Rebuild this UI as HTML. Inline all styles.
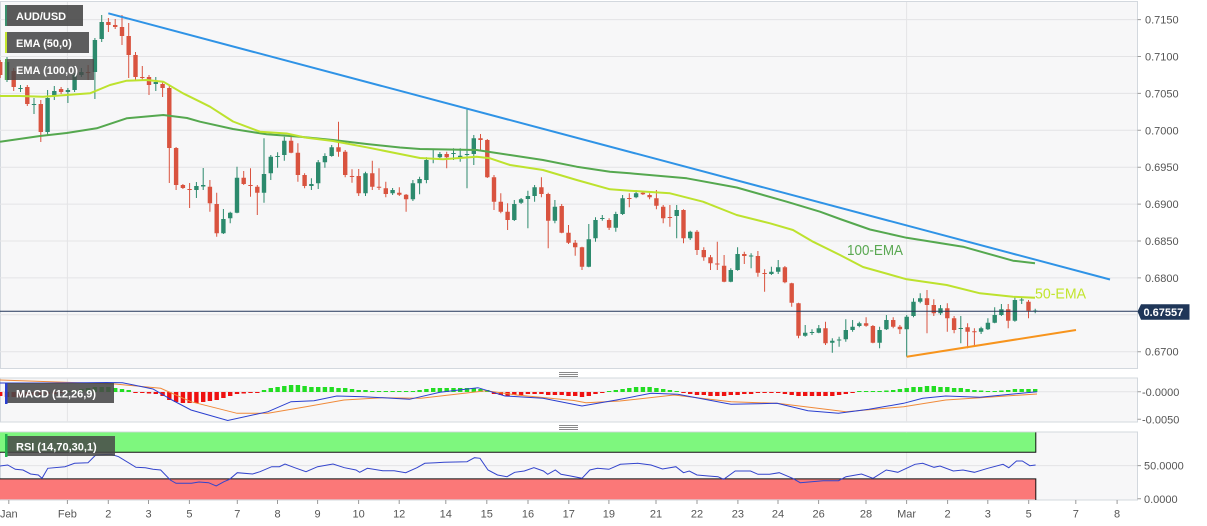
<!DOCTYPE html>
<html>
<head>
<meta charset="utf-8">
<style>
  html,body{margin:0;padding:0;background:#ffffff;}
  body{width:1207px;height:526px;overflow:hidden;}
  svg{display:block;font-family:"Liberation Sans",Arial,sans-serif;}
  .ax{font-size:11px;fill:#555;}
  .lg{font-size:11px;fill:#fff;font-weight:bold;}
</style>
</head>
<body>
<svg width="1207" height="526" viewBox="0 0 1207 526" xmlns="http://www.w3.org/2000/svg">
  <defs>
    <clipPath id="cm"><rect x="0" y="1.5" width="1137.5" height="367"/></clipPath>
    <clipPath id="cd"><rect x="0" y="378" width="1137.5" height="44"/></clipPath>
    <clipPath id="cr"><rect x="0" y="432" width="1137.5" height="68"/></clipPath>
  </defs>

  <!-- panels -->
  <rect x="0.5" y="1.5" width="1137" height="367" fill="#f7f7f8" stroke="#d3d8de"/>
  <rect x="0.5" y="378" width="1137" height="44" fill="#f7f7f8" stroke="#d3d8de"/>
  <rect x="0.5" y="432" width="1137" height="68" fill="#f7f7f8" stroke="#d3d8de"/>

  <!-- main grid -->
  <g stroke="#e4e4e6" stroke-width="1">
    <path d="M0 19.6H1137M0 56.5H1137M0 93.4H1137M0 130.3H1137M0 167.2H1137M0 204.1H1137M0 241H1137M0 277.9H1137M0 314.8H1137M0 351.7H1137"/>
    <path d="M67.4 2V368M906.6 2V368M67.4 378V422M906.6 378V422M67.4 432V500M906.6 432V500"/>
    <path d="M0 391.8H1137M0 465.6H1137"/>
  </g>

  <!-- handles -->
  <g stroke="#8a8a8a" stroke-width="1">
    <path d="M559 372.5H578M559 374.5H578M559 376.5H578"/>
    <path d="M559 425.5H578M559 427.5H578M559 429.5H578"/>
  </g>

  <g clip-path="url(#cm)">
    <!-- candles -->
    <g transform="translate(0,0)">
    <path fill="none" stroke="#2c8a6d" stroke-width="1" d="M7 57V82M20.5 85V92M34 98V114M47.6 90V135M54.3 86V100M67.9 88V103M74.6 73V92M81.4 68V77M94.9 38V99M101.7 15V42M155.8 77V91M196.4 182V198M203.2 168V190M223.4 209V234M230.2 211.7V223.3M237 166.7V213.3M264 138.3V202.7M270.8 155V180M277.6 152.3V167.7M284.3 136.7V160.7M311.4 178.3V190M318.2 160V189M324.9 153.3V167.7M331.7 145V156.7M365.5 171.7V196M392.6 188V195M412.9 180V201M419.6 176.7V194.3M426.4 157.3V183.3M433.2 150V163.3M439.9 152V158M453.5 148.3V160M460.2 148.3V161.7M467 109.3V188.3M473.8 135V165M514.3 200V221M521.1 198V204M527.9 190.7V228.3M534.6 185V201.7M554.9 200V223.3M588.8 224V267.3M595.5 217.3V241.7M602.3 215V220.7M615.8 211.7V231.7M622.6 195V215M636.1 190V198.3M676.7 205V238.3M690.2 230.7V240M730.8 268.3V282.3M737.6 247.3V270.7M751.1 253.3V268.3M771.4 266.7V275M778.2 260V274M805.2 325V336.7M812 329.3V335M818.8 325V333.3M832.3 338.3V352.7M839.1 336.7V346.7M845.8 319.3V341.7M852.6 320V331.7M859.3 321.7V327.3M879.6 326.7V348.3M886.4 315V330M906.7 315V356.7M913.5 298.3V317.3M920.2 293.3V303.3M940.5 305V315M960.8 316V343.3M981.1 326.7V334M987.9 318.3V330M994.7 307.3V323.3M1001.4 304V316M1014.9 296.7V321.7M1021.7 296.7V304M1035.2 308.7V313.3"/>
    <path fill="none" stroke="#d9533f" stroke-width="1" d="M0.2 60V78M13.7 68V91M27.3 85V106M40.8 100V142M61.1 87V94M88.1 65V80M108.4 18V32M115.2 19V29M122 15V45M128.7 23V78M135.5 52V80M142.3 66V80M149 75V95M162.6 82V97M169.3 86V183M176.1 147V190M182.9 184V189M189.6 183V208M209.9 180V211.7M216.7 192.7V236.7M243.7 171V185M250.5 168.3V196.7M257.3 185V215M291.1 136.7V153.3M297.9 143.3V181.7M304.6 173.3V188.3M338.5 121.7V156.7M345.2 150V177.3M352 169.3V182.7M358.7 169V196M372.3 160.7V190M379 168.3V190M385.8 181.7V197.3M399.3 187.3V196M406.1 194V211.7M446.7 151.7V168.3M480.5 134V150M487.3 139V178M494 175V210M500.8 193.3V213.3M507.6 203.3V230M541.4 177.3V197.3M548.2 192.7V248.3M561.7 204V233.3M568.5 225V244M575.2 240V255.7M582 246.7V270M609.1 218.3V230M629.3 193.3V207.3M642.9 190.7V195M649.6 193.3V199.3M656.4 190V209.3M663.2 205V223.3M669.9 205V226.7M683.5 209.3V243.3M697 230V255M703.8 247.3V260.7M710.5 255V270M717.3 241.7V270M724.1 255V282.3M744.3 251.7V264M757.9 251V276.7M764.6 269.3V291.7M784.9 266V283.3M791.7 282.7V306.7M798.5 302.7V338.3M825.5 321.7V345M866.1 317.3V326.7M872.9 325V343.3M893.2 317.3V328.3M899.9 325V334M927 290V333.3M933.8 299.3V316M947.3 303.3V331.7M954.1 316V333.3M967.6 323.3V348.3M974.4 328.3V346.7M1008.2 304V328.3M1028.5 300V318.3"/>
    <path fill="#2c8a6d" d="M4.8 62h4.4v18h-4.4zM18.3 88h4.4v1h-4.4zM31.8 104h4.4v1h-4.4zM45.4 98h4.4v34h-4.4zM52.1 91h4.4v5h-4.4zM65.7 90h4.4v2h-4.4zM72.4 75h4.4v15h-4.4zM79.2 72h4.4v3h-4.4zM92.7 40h4.4v32h-4.4zM99.5 22h4.4v17h-4.4zM153.6 82h4.4v2h-4.4zM194.2 186h4.4v4h-4.4zM201 185h4.4v1.5h-4.4zM221.2 219h4.4v14.3h-4.4zM228 212.7h4.4v5.6h-4.4zM234.8 177.7h4.4v35h-4.4zM261.8 174h4.4v18.7h-4.4zM268.6 156.7h4.4v16.6h-4.4zM275.4 156h4.4v1h-4.4zM282.1 140.7h4.4v14.3h-4.4zM309.2 184h4.4v2h-4.4zM316 162.3h4.4v21h-4.4zM322.7 156h4.4v6.3h-4.4zM329.5 147.3h4.4v8.7h-4.4zM363.3 173.3h4.4v20h-4.4zM390.4 190h4.4v3.3h-4.4zM410.7 183.3h4.4v16h-4.4zM417.4 179h4.4v4.3h-4.4zM424.2 160h4.4v20h-4.4zM431 158h4.4v1h-4.4zM437.7 154h4.4v3.3h-4.4zM451.3 153h4.4v1h-4.4zM458 155.7h4.4v1.6h-4.4zM464.8 154h4.4v1h-4.4zM471.6 138.3h4.4v15.7h-4.4zM512.1 204h4.4v16h-4.4zM518.9 199.3h4.4v3.4h-4.4zM525.7 196h4.4v3h-4.4zM532.4 187.3h4.4v8.7h-4.4zM552.7 206.7h4.4v14h-4.4zM586.6 239.3h4.4v27.4h-4.4zM593.3 220h4.4v18.3h-4.4zM600.1 218h4.4v1h-4.4zM613.6 214h4.4v13.7h-4.4zM620.4 198.3h4.4v15.7h-4.4zM633.9 193.3h4.4v4h-4.4zM674.5 210h4.4v6h-4.4zM688 231.7h4.4v6.6h-4.4zM728.6 270h4.4v11.7h-4.4zM735.4 254h4.4v16h-4.4zM748.9 255.5h4.4v1h-4.4zM769.2 271.7h4.4v2.3h-4.4zM776 267.3h4.4v4.4h-4.4zM803 332.7h4.4v3h-4.4zM809.8 332h4.4v1h-4.4zM816.6 328.3h4.4v4.4h-4.4zM830.1 340.7h4.4v2h-4.4zM836.9 339.5h4.4v1h-4.4zM843.6 330h4.4v9.3h-4.4zM850.4 326.7h4.4v3.3h-4.4zM857.1 323.3h4.4v2.7h-4.4zM877.4 330h4.4v12.7h-4.4zM884.2 320h4.4v9.3h-4.4zM904.5 316.7h4.4v12.6h-4.4zM911.3 301.7h4.4v14.3h-4.4zM918 298.3h4.4v3.4h-4.4zM938.3 308.3h4.4v5h-4.4zM958.6 328h4.4v1h-4.4zM978.9 328.3h4.4v3.4h-4.4zM985.7 322.7h4.4v6.6h-4.4zM992.5 315h4.4v7.7h-4.4zM999.2 309.3h4.4v5.7h-4.4zM1012.7 300h4.4v20.7h-4.4zM1019.5 299.5h4.4v1h-4.4zM1033 310.5h4.4v1h-4.4z"/>
    <path fill="#d9533f" d="M-2 62h4.4v13h-4.4zM11.5 71h4.4v16h-4.4zM25.1 87h4.4v17h-4.4zM38.6 104h4.4v28h-4.4zM58.9 89h4.4v3h-4.4zM85.9 72h4.4v1h-4.4zM106.2 22h4.4v3h-4.4zM113 25h4.4v2h-4.4zM119.8 27h4.4v9h-4.4zM126.5 36h4.4v19h-4.4zM133.3 55h4.4v22h-4.4zM140.1 77h4.4v1h-4.4zM146.8 77h4.4v8h-4.4zM160.4 84h4.4v4h-4.4zM167.1 88h4.4v60h-4.4zM173.9 148h4.4v37h-4.4zM180.7 185h4.4v3h-4.4zM187.4 189h4.4v1h-4.4zM207.7 186.7h4.4v16.6h-4.4zM214.5 204h4.4v29.3h-4.4zM241.5 177.7h4.4v6.3h-4.4zM248.3 185h4.4v1h-4.4zM255.1 186.7h4.4v6h-4.4zM288.9 140.7h4.4v12h-4.4zM295.7 152.7h4.4v22.3h-4.4zM302.4 175h4.4v11h-4.4zM336.3 147.3h4.4v4.4h-4.4zM343 151.7h4.4v23.3h-4.4zM349.8 176h4.4v1h-4.4zM356.5 176h4.4v17.3h-4.4zM370.1 173.3h4.4v13.4h-4.4zM376.8 186.7h4.4v1h-4.4zM383.6 188.3h4.4v5.7h-4.4zM397.1 192.7h4.4v2h-4.4zM403.9 194.7h4.4v4.6h-4.4zM444.5 154h4.4v3.3h-4.4zM478.3 138.3h4.4v1.7h-4.4zM485.1 140h4.4v37.3h-4.4zM491.8 177.3h4.4v24.4h-4.4zM498.6 201.7h4.4v10h-4.4zM505.4 211.7h4.4v8.3h-4.4zM539.2 187.3h4.4v6.7h-4.4zM546 194h4.4v26.7h-4.4zM559.5 206h4.4v26.7h-4.4zM566.3 232.7h4.4v10h-4.4zM573 242.7h4.4v4.6h-4.4zM579.8 247.3h4.4v19.4h-4.4zM606.9 220h4.4v7.7h-4.4zM627.1 198h4.4v1h-4.4zM640.7 192.7h4.4v1.6h-4.4zM647.4 195h4.4v2.3h-4.4zM654.2 198.3h4.4v7.4h-4.4zM661 206.7h4.4v11.6h-4.4zM667.7 217h4.4v1h-4.4zM681.3 210h4.4v28.3h-4.4zM694.8 231.7h4.4v18.3h-4.4zM701.6 250h4.4v7.3h-4.4zM708.3 257.3h4.4v6h-4.4zM715.1 263.5h4.4v1h-4.4zM721.9 265.7h4.4v16h-4.4zM742.1 254h4.4v2h-4.4zM755.7 256h4.4v16.7h-4.4zM762.4 273h4.4v1h-4.4zM782.7 267.3h4.4v15h-4.4zM789.5 283.3h4.4v19.4h-4.4zM796.3 303.3h4.4v32.4h-4.4zM823.3 328.3h4.4v15h-4.4zM863.9 323.3h4.4v2.4h-4.4zM870.7 326h4.4v16.7h-4.4zM891 320h4.4v6.7h-4.4zM897.7 326.7h4.4v2.6h-4.4zM924.8 298.3h4.4v6.7h-4.4zM931.6 305h4.4v8.3h-4.4zM945.1 308.3h4.4v10h-4.4zM951.9 318.3h4.4v11.7h-4.4zM965.4 327.3h4.4v4.4h-4.4zM972.2 331.2h4.4v1h-4.4zM1006 309.3h4.4v11.4h-4.4zM1026.3 301.7h4.4v9h-4.4z"/>
    </g>

    <!-- EMAs -->
    <polyline fill="none" stroke="#55a84f" stroke-width="2" stroke-linejoin="round" points="0,141.7 40,136 66.7,133 96.7,128.3 126.7,118.3 163.3,115 187,118 200,121.7 233,129 266.7,134.3 300,136.7 333,140 366.7,144 400,147.5 420,149 476.7,150 510,155 543,160 576.7,166.7 610,171.7 630,173.3 686.7,178.3 736.7,187.5 786.7,201.7 820,211.7 840,219 870,229.5 906.7,237.8 963,246.7 1013,260.7 1035,263.3"/>
    <polyline fill="none" stroke="#bde22e" stroke-width="2" stroke-linejoin="round" points="0,96 20,96 43,96.7 66.7,95 90,93.3 110,85 126.7,80.7 146.7,80 163.3,81.7 183,93.3 200,101.7 210,106.7 233,121.5 260,131.7 286.7,133.5 306.7,137.8 333,141 366.7,147.3 400,154 420,158 443,159.3 476.7,156.7 490,158.3 510,165 543,170 576.7,180 610,189.3 630,190.7 670,193.3 703,201.7 736.7,215 770,223.3 793,230 813,241.7 840,255 863,267 906.7,279.3 946.7,285 980,293.3 1013,296.7 1035,297.7"/>

    <!-- trend lines -->
    <line x1="108.3" y1="13.3" x2="1110" y2="279.5" stroke="#2f93e6" stroke-width="2"/>
    <line x1="906.7" y1="356.7" x2="1076" y2="330" stroke="#f7941d" stroke-width="2"/>

    <!-- current price line -->
    <line x1="0" y1="311.2" x2="1137.5" y2="311.2" stroke="#22375a" stroke-width="1"/>

    <text x="847" y="255" font-size="15" fill="#5aa852" textLength="56" lengthAdjust="spacingAndGlyphs">100-EMA</text>
    <text x="1035" y="298.5" font-size="15" fill="#c2e52d" textLength="51" lengthAdjust="spacingAndGlyphs">50-EMA</text>
  </g>

  <!-- legends main -->
  <rect x="5" y="5" width="78" height="21" fill="rgba(72,72,72,0.9)"/>
  <rect x="5" y="5" width="2" height="21" fill="#3a8f6c"/>
  <text class="lg" x="16" y="20">AUD/USD</text>
  <rect x="5" y="32" width="84" height="21" fill="rgba(72,72,72,0.88)"/>
  <rect x="5" y="32" width="2" height="21" fill="#c2e52d"/>
  <text class="lg" x="16" y="47">EMA (50,0)</text>
  <rect x="5" y="59" width="89" height="21" fill="rgba(72,72,72,0.82)"/>
  <rect x="5" y="59" width="2" height="21" fill="#55a84f"/>
  <text class="lg" x="16" y="74">EMA (100,0)</text>

  <!-- MACD -->
  <g clip-path="url(#cd)">
    <path fill="#22dd22" d="M65.7 391h4.4v1h-4.4zM72.4 390h4.4v2h-4.4zM79.2 389h4.4v3h-4.4zM85.9 388h4.4v4h-4.4zM92.7 387h4.4v5h-4.4zM99.5 387h4.4v5h-4.4zM106.2 387h4.4v5h-4.4zM113 388h4.4v4h-4.4zM119.8 389h4.4v3h-4.4zM126.5 390h4.4v2h-4.4zM261.8 390h4.4v2h-4.4zM268.6 388h4.4v4h-4.4zM275.4 387h4.4v5h-4.4zM282.1 386h4.4v6h-4.4zM288.9 385h4.4v7h-4.4zM295.7 385h4.4v7h-4.4zM302.4 386h4.4v6h-4.4zM309.2 387h4.4v5h-4.4zM316 387h4.4v5h-4.4zM322.7 387h4.4v5h-4.4zM329.5 387h4.4v5h-4.4zM336.3 388h4.4v4h-4.4zM343 388h4.4v4h-4.4zM349.8 389h4.4v3h-4.4zM356.5 390h4.4v2h-4.4zM363.3 390h4.4v2h-4.4zM370.1 391h4.4v1h-4.4zM376.8 391h4.4v1h-4.4zM383.6 391h4.4v1h-4.4zM390.4 391h4.4v1h-4.4zM397.1 391h4.4v1h-4.4zM403.9 391h4.4v1h-4.4zM410.7 391h4.4v1h-4.4zM417.4 390h4.4v2h-4.4zM424.2 389h4.4v3h-4.4zM431 388h4.4v4h-4.4zM437.7 388h4.4v4h-4.4zM444.5 388h4.4v4h-4.4zM451.3 388h4.4v4h-4.4zM458 388h4.4v4h-4.4zM464.8 388h4.4v4h-4.4zM471.6 388h4.4v4h-4.4zM478.3 389h4.4v3h-4.4zM485.1 390h4.4v2h-4.4zM606.9 391h4.4v1h-4.4zM613.6 390h4.4v2h-4.4zM620.4 389h4.4v3h-4.4zM627.1 388h4.4v4h-4.4zM633.9 387h4.4v5h-4.4zM640.7 387h4.4v5h-4.4zM647.4 387h4.4v5h-4.4zM654.2 388h4.4v4h-4.4zM661 389h4.4v3h-4.4zM667.7 390h4.4v2h-4.4zM674.5 391h4.4v1h-4.4zM857.1 391h4.4v1h-4.4zM863.9 391h4.4v1h-4.4zM870.7 391h4.4v1h-4.4zM877.4 391h4.4v1h-4.4zM884.2 390.5h4.4v1.5h-4.4zM891 390h4.4v2h-4.4zM897.7 389h4.4v3h-4.4zM904.5 388h4.4v4h-4.4zM911.3 387h4.4v5h-4.4zM918 387h4.4v5h-4.4zM924.8 386h4.4v6h-4.4zM931.6 386h4.4v6h-4.4zM938.3 387h4.4v5h-4.4zM945.1 387h4.4v5h-4.4zM951.9 388h4.4v4h-4.4zM958.6 388h4.4v4h-4.4zM965.4 389h4.4v3h-4.4zM972.2 390h4.4v2h-4.4zM978.9 390.5h4.4v1.5h-4.4zM985.7 391h4.4v1h-4.4zM992.5 391h4.4v1h-4.4zM999.2 390.5h4.4v1.5h-4.4zM1006 390h4.4v2h-4.4zM1012.7 389h4.4v3h-4.4zM1019.5 389h4.4v3h-4.4zM1026.3 389h4.4v3h-4.4zM1033 389h4.4v3h-4.4z"/>
    <path fill="#ee1111" d="M-2 392h4.4v4h-4.4zM4.8 392h4.4v5h-4.4zM11.5 392h4.4v5h-4.4zM18.3 392h4.4v5h-4.4zM25.1 392h4.4v4h-4.4zM31.8 392h4.4v3h-4.4zM38.6 392h4.4v3h-4.4zM45.4 392h4.4v2h-4.4zM52.1 392h4.4v2h-4.4zM58.9 392h4.4v1h-4.4zM133.3 392h4.4v1h-4.4zM140.1 392h4.4v1h-4.4zM146.8 392h4.4v1.5h-4.4zM153.6 392h4.4v2h-4.4zM160.4 392h4.4v4h-4.4zM167.1 392h4.4v8h-4.4zM173.9 392h4.4v10h-4.4zM180.7 392h4.4v11h-4.4zM187.4 392h4.4v11h-4.4zM194.2 392h4.4v11h-4.4zM201 392h4.4v10h-4.4zM207.7 392h4.4v9h-4.4zM214.5 392h4.4v8h-4.4zM221.2 392h4.4v6h-4.4zM228 392h4.4v4h-4.4zM234.8 392h4.4v2h-4.4zM241.5 392h4.4v1.5h-4.4zM248.3 392h4.4v1h-4.4zM255.1 392h4.4v1h-4.4zM491.8 392h4.4v2h-4.4zM498.6 392h4.4v3h-4.4zM505.4 392h4.4v4h-4.4zM512.1 392h4.4v3h-4.4zM518.9 392h4.4v3h-4.4zM525.7 392h4.4v2h-4.4zM532.4 392h4.4v2h-4.4zM539.2 392h4.4v2h-4.4zM546 392h4.4v3h-4.4zM552.7 392h4.4v3h-4.4zM559.5 392h4.4v3h-4.4zM566.3 392h4.4v4h-4.4zM573 392h4.4v4h-4.4zM579.8 392h4.4v5h-4.4zM586.6 392h4.4v4h-4.4zM593.3 392h4.4v2h-4.4zM600.1 392h4.4v1h-4.4zM681.3 392h4.4v1h-4.4zM688 392h4.4v2h-4.4zM694.8 392h4.4v3h-4.4zM701.6 392h4.4v3h-4.4zM708.3 392h4.4v4h-4.4zM715.1 392h4.4v4h-4.4zM721.9 392h4.4v4h-4.4zM728.6 392h4.4v3h-4.4zM735.4 392h4.4v3h-4.4zM742.1 392h4.4v2h-4.4zM748.9 392h4.4v2h-4.4zM755.7 392h4.4v1h-4.4zM762.4 392h4.4v1h-4.4zM769.2 392h4.4v1h-4.4zM776 392h4.4v1h-4.4zM782.7 392h4.4v2h-4.4zM789.5 392h4.4v3h-4.4zM796.3 392h4.4v4h-4.4zM803 392h4.4v4h-4.4zM809.8 392h4.4v4h-4.4zM816.6 392h4.4v4h-4.4zM823.3 392h4.4v4h-4.4zM830.1 392h4.4v4h-4.4zM836.9 392h4.4v3h-4.4zM843.6 392h4.4v2h-4.4zM850.4 392h4.4v1h-4.4z"/>
    <polyline fill="none" stroke="#f08a3a" stroke-width="1" points="0,380 115,384 160.7,388.3 191,401.7 237,413.3 268,413.3 306,406.7 344,400 382.7,397.7 421,398.3 486,390.7 516.6,395 574,400.5 586,402.7 620,401 674,395 731,401.7 777,403.3 846,411.7 903.6,406.7 945.7,400 980,397.7 1037,394"/>
    <polyline fill="none" stroke="#2a3fd0" stroke-width="1" points="0,383 60,383 107,382.5 122.5,382.7 153,389 172,400 191,410 227.7,420.5 268,411.7 291,401.7 314,400.7 336.8,396 363.6,396.7 409.5,399.3 440,392.3 478,387.7 505,396 543,398.3 582,406 616.5,400 651,393.3 677.8,394.3 731,404.3 777,403.3 808,410.7 838.5,413.3 869,409.3 903.6,403.3 922.7,398.3 945.7,396 980,397.3 1037,391.7"/>
  </g>
  <rect x="6" y="383" width="108" height="20" fill="rgba(72,72,72,0.88)"/>
  <rect x="5" y="383" width="2.5" height="21" fill="#2a3fd0"/>
  <text class="lg" x="16" y="397.5">MACD (12,26,9)</text>

  <!-- RSI -->
  <g clip-path="url(#cr)">
    <rect x="0" y="432.4" width="1035.8" height="19.9" fill="#7ef77e"/>
    <path d="M0 452.3H1035.8V432.4" fill="none" stroke="#111" stroke-width="1"/>
    <rect x="0" y="478.9" width="1035.8" height="20.5" fill="#fb7878"/>
    <path d="M0 478.9H1035.8V500" fill="none" stroke="#111" stroke-width="1"/>
    <polyline fill="none" stroke="#3344cc" stroke-width="1" points="0,466 7.7,465 15.3,469.3 23,470 30.6,474 38.3,475 42,478.3 47.8,468.3 65,466.7 74.6,463.3 88,462.7 95.7,455 111,454.3 118.6,456.7 135.9,467.3 145.4,467.7 153,469.3 160.7,470 170.3,480 176,483.3 191.4,483.3 199,482 208.6,482.7 216.2,486 224,481.7 229.6,479.3 237.3,472.7 252.6,474 260,471.7 271.7,466.7 279.4,466.7 285,464 294.7,467.7 306,471.7 317.6,466.7 333,464 344.4,467.7 356,470 359.7,472.3 367.4,468.3 382.7,470.7 394.2,470.7 405.7,472.7 417,467.7 424.8,463.3 436,462.7 444,462.3 467,461.7 474.5,457.7 480,458.3 488,470 497.5,475 507,476.7 514.7,472.3 524.3,471 533.9,467.7 543.4,471 547.7,474.3 555.3,470 561,474.3 570.6,476 582,478.3 589.8,470 597.4,468.3 608.9,469.3 620.4,464.3 637.6,463.3 651,465 662.5,469 675.9,466.7 683.5,472.7 689.3,471 697,475 708.4,476 718,476.7 723.7,479.3 735.2,471 750.5,471 758,474.3 769.6,474.3 779.2,472.7 792.6,478.3 800.2,482.7 823.2,480.7 838.5,480.7 846,476.7 861.5,474 873,478.3 886.3,470 897.8,472.3 915,464.3 922.7,463.3 934,467.3 940,466 953.3,471 963,470 974.4,472.3 987.8,468.3 1003,464.3 1008.8,467.7 1016.5,461 1022.3,461 1029.8,465.7 1035.6,465"/>
  </g>
  <rect x="6" y="436" width="109" height="20" fill="rgba(72,72,72,0.85)"/>
  <rect x="5" y="434" width="2.5" height="23" fill="#22b14c"/>
  <text class="lg" x="16" y="450.5">RSI (14,70,30,1)</text>

  <!-- price axis -->
  <g stroke="#9a9a9a" stroke-width="1">
    <path d="M1137.5 19.6H1141M1137.5 56.5H1141M1137.5 93.4H1141M1137.5 130.3H1141M1137.5 167.2H1141M1137.5 204.1H1141M1137.5 241H1141M1137.5 277.9H1141M1137.5 351.7H1141M1137.5 391.8H1141M1137.5 419.3H1141M1137.5 465.6H1141M1137.5 498.8H1141"/>
    <path d="M8.8 500V504M67.4 500V504M108.3 500V504M148.5 500V504M189.4 500V504M237.3 500V504M277.5 500V504M317.6 500V504M358.6 500V504M399.2 500V504M445.8 500V504M486.8 500V504M528 500V504M568.8 500V504M608.9 500V504M656 500V504M697 500V504M737.9 500V504M778 500V504M818.6 500V504M866 500V504M906.6 500V504M947.6 500V504M987.8 500V504M1028.7 500V504M1075.8 500V504M1117.1 500V504"/>
  </g>
  <g class="ax">
    <text x="1145" y="23.6">0.7150</text>
    <text x="1145" y="60.5">0.7100</text>
    <text x="1145" y="97.4">0.7050</text>
    <text x="1145" y="134.3">0.7000</text>
    <text x="1145" y="171.2">0.6950</text>
    <text x="1145" y="208.1">0.6900</text>
    <text x="1145" y="245">0.6850</text>
    <text x="1145" y="281.9">0.6800</text>
    <text x="1145" y="355.7">0.6700</text>
    <text x="1142" y="395.8">-0.0000</text>
    <text x="1142" y="423.3">-0.0050</text>
    <text x="1144" y="469.6">50.0000</text>
    <text x="1144" y="502.8">0.0000</text>
  </g>

  <!-- price label -->
  <path d="M1137.5 311.5L1141 304.3H1189.5V319.7H1141Z" fill="#1f3658"/>
  <text x="1143.5" y="315.8" font-size="11" font-weight="bold" fill="#ffffff">0.67557</text>

  <!-- x axis labels -->
  <g class="ax" text-anchor="middle">
    <text x="8.8" y="517.5">Jan</text>
    <text x="67.4" y="517.5">Feb</text>
    <text x="108.3" y="517.5">2</text>
    <text x="148.5" y="517.5">3</text>
    <text x="189.4" y="517.5">5</text>
    <text x="237.3" y="517.5">7</text>
    <text x="277.5" y="517.5">8</text>
    <text x="317.6" y="517.5">9</text>
    <text x="358.6" y="517.5">10</text>
    <text x="399.2" y="517.5">12</text>
    <text x="445.8" y="517.5">14</text>
    <text x="486.8" y="517.5">15</text>
    <text x="528" y="517.5">16</text>
    <text x="568.8" y="517.5">17</text>
    <text x="608.9" y="517.5">19</text>
    <text x="656" y="517.5">21</text>
    <text x="697" y="517.5">22</text>
    <text x="737.9" y="517.5">23</text>
    <text x="778" y="517.5">24</text>
    <text x="818.6" y="517.5">26</text>
    <text x="866" y="517.5">28</text>
    <text x="906.6" y="517.5">Mar</text>
    <text x="947.6" y="517.5">2</text>
    <text x="987.8" y="517.5">3</text>
    <text x="1028.7" y="517.5">5</text>
    <text x="1075.8" y="517.5">7</text>
    <text x="1117.1" y="517.5">8</text>
  </g>
</svg>
</body>
</html>
